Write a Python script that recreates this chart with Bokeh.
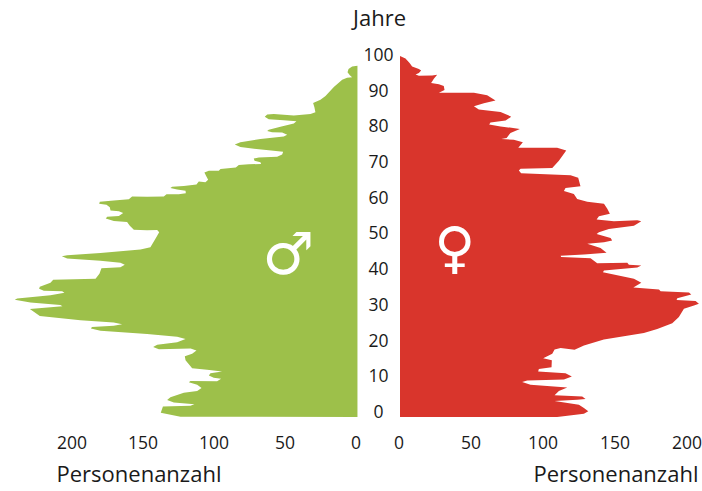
from bokeh.plotting import figure
from bokeh.layouts import column, row
from bokeh.models import Range1d, LinearAxis, Title, FixedTicker
from bokeh.core.properties import value
from bokeh.embed import file_html
from bokeh.resources import INLINE

male_age = [97.3,97.1,96.4,95.5,94.7,94.1,94.0,93.4,91.4,88.9,87.9,87.0,85.8,84.4,83.9,83.5,83.9,83.8,83.2,82.5,
            82.2,81.9,81.3,80.4,79.6,79.2,78.9,78.8,78.2,77.7,77.0,76.1,75.5,74.8,74.0,73.5,72.7,72.1,71.9,71.6,
            71.0,70.6,70.1,70.0,69.8,69.1,68.7,68.2,68.2,67.7,66.6,65.7,65.0,65.2,64.4,64.0,63.8,63.4,63.0,62.7,
            62.0,61.7,61.7,61.1,61.0,61.1,60.3,60.0,59.6,59.1,58.8,58.1,57.2,57.0,56.5,55.7,55.5,55.0,54.3,54.0,
            53.0,51.9,51.7,51.8,51.2,49.4,47.0,46.4,45.4,44.8,44.5,43.9,43.3,42.7,42.2,41.5,41.2,39.7,38.3,38.0,
            37.2,36.1,35.5,35.0,34.8,34.4,33.7,32.8,32.5,31.7,31.0,30.7,29.9,28.0,26.8,26.2,25.7,25.3,24.9,24.5,
            23.9,23.0,22.2,21.6,20.7,20.0,19.4,18.8,19.0,18.4,17.5,16.8,15.7,13.5,13.1,12.6,12.1,11.5,10.9,10.6,
            9.9,10.0,9.6,8.9,8.0,7.2,6.7,5.5,4.7,4.0,3.5,3.1,2.9,1.2,0.1,0.0]
male_count = [0,3.7,6.2,6.9,5.3,3.7,7.2,10.6,16.4,22.2,25.7,30.8,29.9,29.2,32.6,44.2,58.1,62.7,64.4,61.6,
              51.2,42.4,44.2,53.5,61.6,62.7,59.3,52.3,48.8,51.2,67.4,81.3,85.2,81.3,65,51.6,52.3,55.8,68.5,72,
              71.5,67.4,66.9,75.5,82.4,84.5,95.1,96.3,103.2,106.3,104.9,103.7,105.6,110.2,111.8,120.6,128.7,129.9,125.2,119.4,
              119.2,124.1,132.6,134.5,146.1,156.5,158.8,169.2,178.9,179.4,174.3,172,171.5,165.7,162.7,165.7,173.8,174.8,169.2,160,
              158.1,155.3,146.1,139.1,137.7,140.3,143.8,150.7,178.5,201.6,205.3,201.6,178.5,164.6,161.6,164.6,177.8,179.2,181.9,211.3,
              213.2,220.6,221.1,217.8,205.1,203.5,213.2,236.3,238,227.1,206.3,204.9,227.5,220.6,192.4,169.3,163.4,169.3,184.4,185.1,
              178.5,146.1,125.2,119.4,125.2,139.1,141.9,137.9,115.9,111.8,114.8,119.9,119.4,114.8,104.4,94,102.1,103.2,99.8,94.7,
              97.5,116,117.1,111.3,108.3,111.3,120.6,129.9,132.2,127.5,113.2,116,135.1,136.6,122.9,0]
female_age = [100,99.3,98.0,97.1,96.4,96.0,95.3,94.9,94.5,94.6,94.8,93.7,92.5,92.2,91.7,90.6,89.8,89.8,89.1,87.7,
              86.9,86.1,85.2,84.5,83.2,82.1,81.6,81.0,80.5,79.8,78.7,77.3,77.0,76.8,76.1,74.6,74.6,73.8,71.0,69.0,
              68.8,68.3,67.5,67.0,66.3,63.9,63.4,62.6,61.8,60.4,59.6,59.1,57.7,56.3,55.6,54.7,54.2,54.5,54.2,53.0,
              52.1,51.2,50.7,49.6,48.9,48.4,48.0,46.8,45.5,45.0,44.7,44.3,44.0,42.6,42.7,42.2,42.0,41.4,40.6,40.1,
              38.3,37.2,35.9,35.3,34.8,34.5,33.9,32.9,32.4,32.1,31.4,30.9,30.0,27.7,26.0,24.4,23.3,21.5,19.8,18.6,
              19.1,18.7,17.5,16.3,15.7,13.8,13.3,12.6,12.1,11.2,10.4,10.1,9.7,8.9,8.2,7.2,6.0,5.7,5.0,4.8,
              4.4,3.4,2.5,1.6,0.9,0,0]
female_count = [0,3.8,6.8,8.4,13.1,14.7,13.1,10.8,13.1,22.3,25.8,23.5,21.6,27,30.4,30.9,27,51.3,60.5,66.3,
                58.2,51.3,54.7,69.8,77.2,73.3,62.8,61.9,69.8,83.2,76.7,74,70.3,79,85.3,82.1,109.1,115.4,110.3,105.7,
                83.7,82.5,84.1,118.4,123.7,125.3,114.9,113.8,120.7,123,130,141.6,143.9,145.7,138.1,136.5,148.5,164.7,167.5,162.4,
                145,138.1,136.5,146.2,147.3,141.6,130,139.2,143.4,127.7,111.5,111.9,132.3,136.9,157.8,158.9,167.5,164.7,141.6,140.9,
                162.4,167.5,162,179.8,180.9,200.6,202.2,192.5,192,205.2,207.5,204.1,197.1,193.6,189,178.6,169.3,141.5,127.7,121.2,
                111.5,107.3,105.7,99.4,105.4,105.2,96.4,95.9,114.9,119.3,113.8,88.3,84.8,90.6,116.1,110.3,107.3,126.5,128.8,123,
                107.3,124.2,127.7,130.7,127.7,109.1,0]
count_ticks = [0, 50, 100, 150, 200]
age_ticks = [0, 10, 20, 30, 40, 50, 60, 70, 80, 90, 100]
age_title = "Jahre"
count_title = "Personenanzahl"
male_symbol = "\u2642"
female_symbol = "\u2640"

GREEN = "#9DC04A"
RED = "#D9352C"
INK = "#1a1a1a"
FONT = "Open Sans"

def base(width, x_range):
    p = figure(width=width, height=455, output_backend="svg", toolbar_location=None,
               x_range=x_range, y_range=Range1d(-2.355, 105.4), x_axis_type=None, y_axis_type=None,
               min_border_left=0, min_border_right=0, min_border_top=0, min_border_bottom=66)
    p.outline_line_color = None
    p.grid.visible = False
    return p

def count_axis(p, rng):
    p.extra_x_ranges = {"ticks": rng}
    ax = LinearAxis(x_range_name="ticks", ticker=FixedTicker(ticks=count_ticks))
    ax.axis_line_color = None
    ax.major_tick_line_color = None
    ax.minor_tick_line_color = None
    ax.major_label_text_font = FONT
    ax.major_label_text_font_size = "17.5px"
    ax.major_label_text_color = INK
    ax.major_label_standoff = 4
    p.add_layout(ax, "below")

def bottom_title(p, offset):
    t = Title(text=count_title, align="left", offset=offset, text_font=FONT, text_font_size="22px",
              text_font_style="normal", text_color=INK, standoff=8, text_line_height=0.9)
    p.add_layout(t, "below")

left = base(362, Range1d(247.9, -3.5))
left.patch(male_count, male_age, color=GREEN, line_width=0)
count_axis(left, Range1d(250.4, -4.5))
bottom_title(left, 56)
left.text([48], [45.2], text=[male_symbol], text_font=value("DejaVu Sans"), text_font_size="58px",
          text_color="white", text_align="center", text_baseline="middle")

right = base(340, Range1d(-26.04, 210))
right.patch(female_count, female_age, color=RED, line_width=0)
count_axis(right, Range1d(-25.4, 210.7))
bottom_title(right, 171)
right.extra_y_ranges = {"age": Range1d(-3.92, 105.04)}
right.text([-15] * len(age_ticks), age_ticks, text=[str(a) for a in age_ticks], y_range_name="age",
           text_font=value(FONT), text_font_size="17.5px", text_color=INK,
           text_align="center", text_baseline="middle")
right.text([38], [46.9], text=[female_symbol], text_font=value("DejaVu Sans"), text_font_size="56px",
           text_color="white", text_align="center", text_baseline="middle")

top = figure(width=702, height=36, output_backend="svg", toolbar_location=None,
             x_range=Range1d(0, 702), y_range=Range1d(0, 1), x_axis_type=None, y_axis_type=None,
             min_border=0)
top.outline_line_color = None
top.grid.visible = False
top.text([379], [0.55], text=[age_title], text_font=value(FONT), text_font_size="22px", text_color=INK,
         text_align="center", text_baseline="middle")

page = column(top, row(left, right, spacing=0), spacing=0)
open("out.html", "w").write(file_html(page, INLINE))
